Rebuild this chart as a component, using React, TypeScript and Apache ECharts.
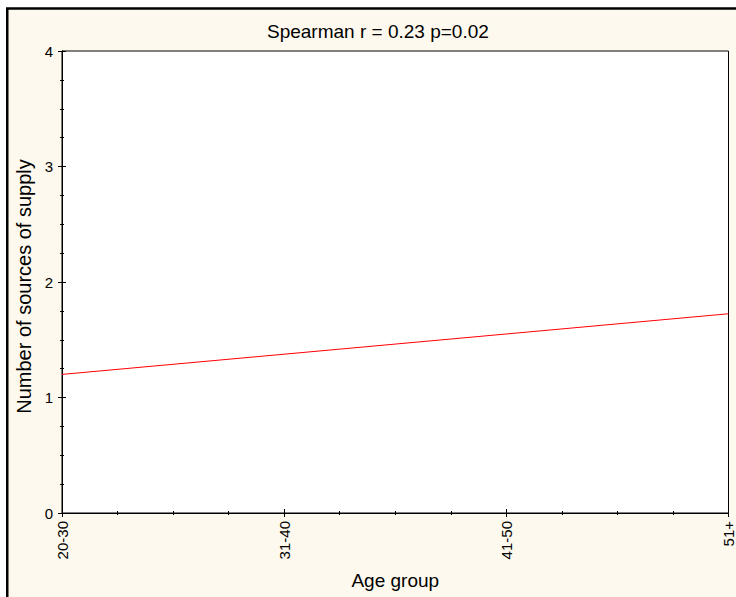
import React, { useEffect, useRef } from "react";
import * as echarts from "echarts";

// Age groups on the horizontal axis
const ageGroups = ["20-30", "31-40", "41-50", "51+"];
// Fitted number of sources of supply per age group (straight regression line)
const fittedSources = [1.2, 1.375, 1.55, 1.725];
// Vertical axis range
const yMin = 0;
const yMax = 4;

const chartTitle = "Spearman r = 0.23 p=0.02";
const xName = "Age group";
const yName = "Number of sources of supply";

const FONT = "'Liberation Sans', Arial, Helvetica, sans-serif";

export default function App() {
  const ref = useRef<HTMLDivElement>(null);

  useEffect(() => {
    if (!ref.current) return;
    const chart = echarts.init(ref.current, null, { renderer: "svg" });

    const lastIdx = ageGroups.length - 1;
    const axisLine = { show: true, lineStyle: { color: "#000", width: 1 } };

    chart.setOption({
      animation: false,
      backgroundColor: "#ffffff",
      textStyle: { fontFamily: FONT, color: "#000" },
      graphic: [
        {
          type: "rect",
          z: -100,
          silent: true,
          shape: { x: 7.25, y: 8.5, width: 1000, height: 1000 },
          style: { fill: "#FEF9EE", stroke: "#000", lineWidth: 2.5 },
        },
      ],
      title: {
        text: chartTitle,
        left: 267,
        top: 22,
        padding: 0,
        textStyle: { fontFamily: FONT, fontSize: 19, fontWeight: "normal", color: "#000" },
      },
      grid: {
        left: 62,
        top: 51,
        right: 7,
        bottom: 84,
        show: true,
        backgroundColor: "#ffffff",
        borderColor: "#000",
        borderWidth: 1,
      },
      xAxis: [
        {
          type: "value",
          position: "bottom",
          min: 0,
          max: lastIdx,
          interval: 1,
          axisLine,
          axisTick: { show: true, inside: true, length: 4, lineStyle: { color: "#000" } },
          minorTick: { show: true, splitNumber: 4, length: 2, lineStyle: { color: "#000" } },
          splitLine: { show: false },
          axisLabel: {
            rotate: 90,
            margin: 8,
            fontSize: 15,
            color: "#000",
            fontFamily: FONT,
            formatter: (v: number) => ageGroups[Math.round(v)] ?? "",
          },
          name: xName,
          nameLocation: "middle",
          nameGap: 58,
          nameTextStyle: { fontSize: 19, color: "#000", fontFamily: FONT },
        },
        {
          type: "value",
          position: "top",
          min: 0,
          max: lastIdx,
          interval: 1,
          axisLine,
          axisTick: { show: true, inside: true, length: 4, lineStyle: { color: "#000" } },
          minorTick: { show: true, splitNumber: 4, length: 2, lineStyle: { color: "#000" } },
          splitLine: { show: false },
          axisLabel: { show: false },
        },
      ],
      yAxis: [
        {
          type: "value",
          position: "left",
          min: yMin,
          max: yMax,
          interval: 1,
          axisLine,
          axisTick: { show: true, inside: true, length: 4, lineStyle: { color: "#000" } },
          minorTick: { show: true, splitNumber: 4, length: 2, lineStyle: { color: "#000" } },
          splitLine: { show: false },
          axisLabel: { margin: 9, fontSize: 15, color: "#000", fontFamily: FONT },
          name: yName,
          nameLocation: "middle",
          nameGap: 26,
          nameTextStyle: { fontSize: 20, color: "#000", fontFamily: FONT, padding: [0, 9, 0, 0] },
        },
        {
          type: "value",
          position: "right",
          min: yMin,
          max: yMax,
          interval: 1,
          axisLine,
          axisTick: { show: true, inside: true, length: 4, lineStyle: { color: "#000" } },
          minorTick: { show: true, splitNumber: 4, length: 2, lineStyle: { color: "#000" } },
          splitLine: { show: false },
          axisLabel: { show: false },
        },
      ],
      series: [
        {
          type: "line",
          xAxisIndex: 0,
          yAxisIndex: 0,
          data: fittedSources.map((v, i) => [i, v]),
          showSymbol: false,
          symbol: "none",
          lineStyle: { color: "#ff0000", width: 1 },
          silent: true,
        },
      ],
    });

    return () => chart.dispose();
  }, []);

  return (
    <div
      ref={ref}
      style={{ position: "fixed", left: 0, top: 0, width: 736, height: 597 }}
    />
  );
}
